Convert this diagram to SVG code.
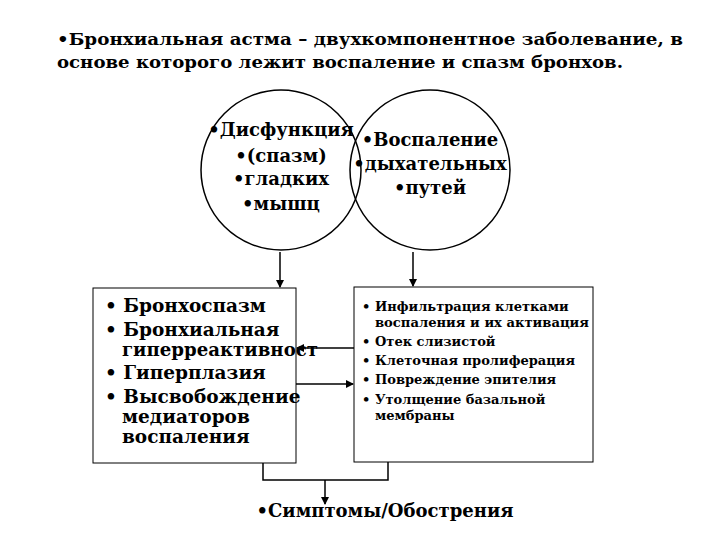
<svg xmlns="http://www.w3.org/2000/svg" width="720" height="540" viewBox="0 0 720 540">
<style>
text{font-family:"DejaVu Serif","Liberation Serif",serif;font-weight:bold;fill:#000}
.t{font-size:17px}
.c{font-size:18px}
.l{font-size:18.5px}
.r{font-size:13px}
.shape{fill:none;stroke:#000;stroke-width:1.5}
.box{fill:#fff;stroke:#000;stroke-width:1}
.ln{fill:none;stroke:#000;stroke-width:1.5}
</style>
<defs><marker id="a" markerWidth="8" markerHeight="8" refX="7" refY="4" orient="auto" markerUnits="userSpaceOnUse"><path d="M0,0 L8,4 L0,8 z" fill="#000"/></marker></defs>
<rect width="720" height="540" fill="#fff"/>
<g id="title"><text class="t" x="57" y="45" textLength="626" lengthAdjust="spacingAndGlyphs">•Бронхиальная астма – двухкомпонентное заболевание, в</text><text class="t" x="57" y="68" textLength="566" lengthAdjust="spacingAndGlyphs">основе которого лежит воспаление и спазм бронхов.</text></g>
<g id="circleLeft"><circle class="shape" cx="281" cy="170" r="80"/>
<text class="c" text-anchor="middle"><tspan x="281" y="136">•Дисфункция</tspan><tspan x="281" y="162">•(спазм)</tspan><tspan x="281" y="185">•гладких</tspan><tspan x="281" y="210">•мышц</tspan></text></g>
<g id="circleRight"><circle class="shape" cx="430" cy="170" r="80"/>
<text class="c" text-anchor="middle"><tspan x="430" y="146">•Воспаление</tspan><tspan x="430" y="170">•дыхательных</tspan><tspan x="430" y="194">•путей</tspan></text></g>
<g id="boxLeft"><rect class="box" x="93" y="288" width="203" height="175"/>
<text class="l"><tspan x="105" y="312">• Бронхоспазм</tspan><tspan x="105" y="336">• Бронхиальная</tspan><tspan x="122" y="356" textLength="196" lengthAdjust="spacingAndGlyphs">гиперреактивност</tspan><tspan x="105" y="379">• Гиперплазия</tspan><tspan x="105" y="403">• Высвобождение</tspan><tspan x="122" y="423">медиаторов</tspan><tspan x="122" y="443">воспаления</tspan></text></g>
<g id="boxRight"><rect class="box" x="354" y="287" width="239" height="175"/>
<text class="r"><tspan x="362" y="311">•</tspan><tspan x="375" y="311">Инфильтрация клетками</tspan><tspan x="375" y="327" textLength="214" lengthAdjust="spacingAndGlyphs">воспаления и их активация</tspan><tspan x="362" y="346">•</tspan><tspan x="375" y="346">Отек слизистой</tspan><tspan x="362" y="365">•</tspan><tspan x="375" y="365">Клеточная пролиферация</tspan><tspan x="362" y="384">•</tspan><tspan x="375" y="384">Повреждение эпителия</tspan><tspan x="362" y="404">•</tspan><tspan x="375" y="404">Утолщение базальной</tspan><tspan x="375" y="420">мембраны</tspan></text></g>
<g id="symptoms"><text class="c" x="385" y="517" text-anchor="middle">•Симптомы/Обострения</text></g>
<g id="connectors">
<line class="ln" x1="280" y1="252" x2="280" y2="287" marker-end="url(#a)"/>
<line class="ln" x1="413" y1="252" x2="413" y2="286" marker-end="url(#a)"/>
<line class="ln" x1="354" y1="348" x2="297" y2="348" marker-end="url(#a)"/>
<line class="ln" x1="296" y1="384" x2="353" y2="384" marker-end="url(#a)"/>
<polyline class="ln" points="263,463 263,480 388,480 388,462"/>
<line class="ln" x1="325" y1="480" x2="325" y2="504" marker-end="url(#a)"/>
</g>
</svg>
